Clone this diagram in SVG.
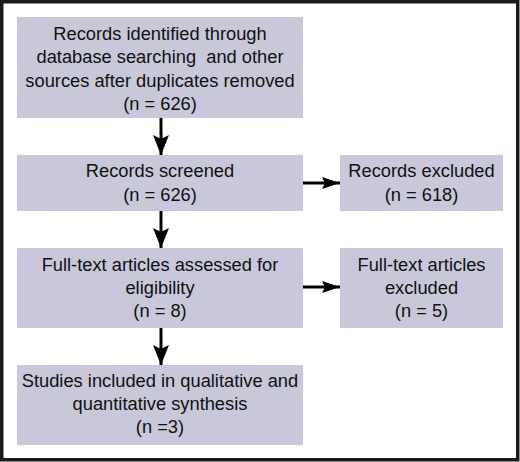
<svg xmlns="http://www.w3.org/2000/svg" width="520" height="462" viewBox="0 0 520 462">
<style>
.box{fill:#c8c8da;}
.t{font-family:"Liberation Sans",Arial,sans-serif;font-size:18.3px;fill:#111;text-anchor:middle;white-space:pre;}
.c{stroke:#000;stroke-width:3;fill:none;}
</style>
<defs>
<marker id="ah" viewBox="0 0 20 16" refX="20" refY="8" markerWidth="20" markerHeight="16" markerUnits="userSpaceOnUse" orient="auto">
<path d="M0,0 L20,8 L0,16 L4,8 Z" fill="#000"/>
</marker>
<marker id="ahs" viewBox="0 0 18 12" refX="18" refY="6" markerWidth="18" markerHeight="12" markerUnits="userSpaceOnUse" orient="auto">
<path d="M0,0 L18,6 L0,12 L3,6 Z" fill="#000"/>
</marker>
</defs>
<rect x="0" y="0" width="520" height="462" fill="#fff"/>
<rect x="1.75" y="1.75" width="516" height="458" fill="none" stroke="#1a1a1a" stroke-width="3.5"/>
<g id="n1">
<rect class="box" x="17" y="17" width="286" height="101"/>
<text class="t" x="160" y="39.5">Records identified through</text>
<text class="t" x="160" y="63">database searching  and other</text>
<text class="t" x="160" y="86.5">sources after duplicates removed</text>
<text class="t" x="160" y="110">(n = 626)</text>
</g>
<g id="n2">
<rect class="box" x="17" y="155" width="286" height="56"/>
<text class="t" x="160" y="177">Records screened</text>
<text class="t" x="160" y="200.5">(n = 626)</text>
</g>
<g id="n3">
<rect class="box" x="340" y="155" width="163" height="56"/>
<text class="t" x="421.5" y="177">Records excluded</text>
<text class="t" x="421.5" y="200.5">(n = 618)</text>
</g>
<g id="n4">
<rect class="box" x="17" y="248" width="286" height="80"/>
<text class="t" x="160" y="271">Full-text articles assessed for</text>
<text class="t" x="160" y="294">eligibility</text>
<text class="t" x="160" y="317">(n = 8)</text>
</g>
<g id="n5">
<rect class="box" x="340" y="248" width="163" height="80"/>
<text class="t" x="421.5" y="271">Full-text articles</text>
<text class="t" x="421.5" y="294">excluded</text>
<text class="t" x="421.5" y="317">(n = 5)</text>
</g>
<g id="n6">
<rect class="box" x="17" y="365" width="286" height="80"/>
<text class="t" x="160" y="387">Studies included in qualitative and</text>
<text class="t" x="160" y="410">quantitative synthesis</text>
<text class="t" x="160" y="433">(n =3)</text>
</g>
<g id="connectors">
<line class="c" x1="161" y1="118" x2="161" y2="155" marker-end="url(#ah)"/>
<line class="c" x1="161" y1="211" x2="161" y2="248" marker-end="url(#ah)"/>
<line class="c" x1="161" y1="328" x2="161" y2="365" marker-end="url(#ah)"/>
<line class="c" x1="303" y1="183" x2="340" y2="183" marker-end="url(#ahs)"/>
<line class="c" x1="303" y1="287" x2="340" y2="287" marker-end="url(#ahs)"/>
</g>
</svg>
